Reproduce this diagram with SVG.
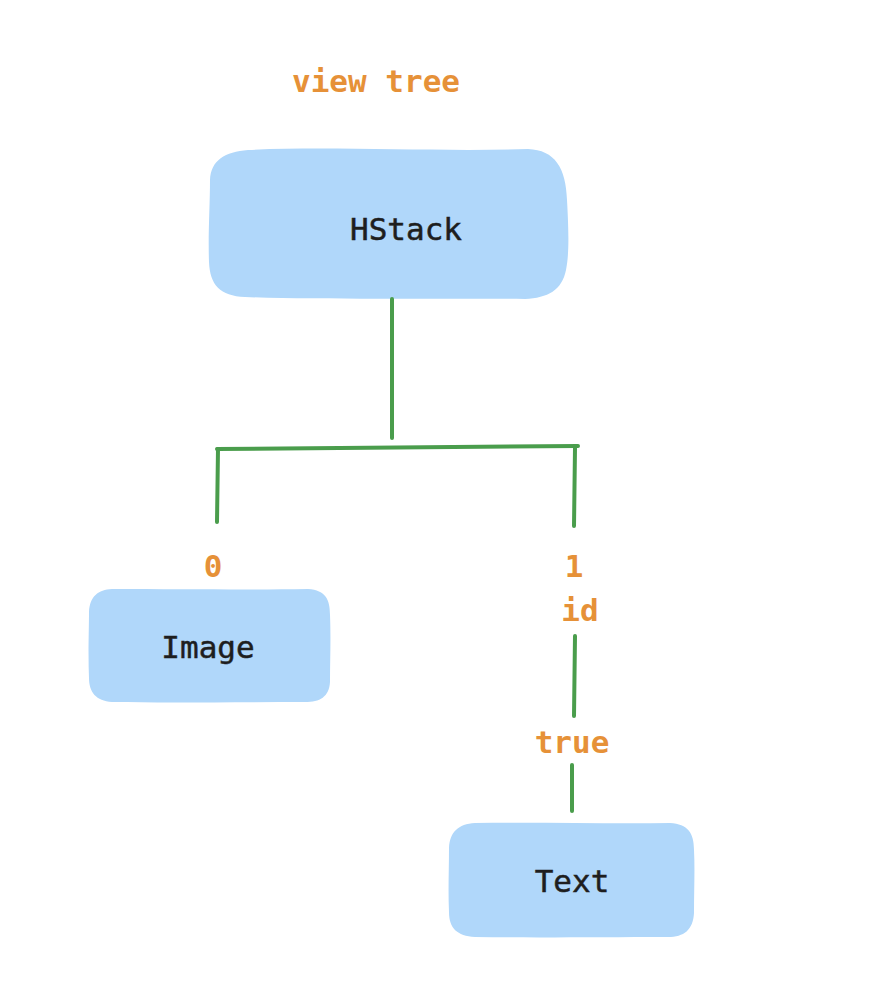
<svg xmlns="http://www.w3.org/2000/svg" width="888" height="988" viewBox="0 0 888 988">
<style>
.box{fill:#b0d7fa;stroke:none}
.lbl{font-family:"DejaVu Sans Mono","Liberation Mono",monospace;font-size:31px;fill:#1e1e1e;text-anchor:middle;stroke:#1e1e1e;stroke-width:0.5}
.ann{font-family:"DejaVu Sans Mono","Liberation Mono",monospace;font-size:31px;font-weight:bold;fill:#e69138;text-anchor:middle}
.edge{stroke:#4a9d4c;stroke-width:4;fill:none;stroke-linecap:round;stroke-linejoin:round}
</style>
<rect width="888" height="988" fill="#ffffff"/>
<text class="ann" x="376" y="92">view tree</text>
<g id="hstack">
<path class="box" d="M248,150 C330,146 440,152 528,149 C555,150 566,168 567,200 C569,235 569,255 566,270 C562,290 548,298 525,299 C430,298 320,300 245,297 C220,296 210,285 209,262 C208,235 210,205 210,180 C211,160 225,152 248,150 Z"/>
<text class="lbl" x="406" y="240">HStack</text>
</g>
<g id="image">
<path class="box" d="M112,589 C180,589 250,590 308,589 C326,590 330,600 330,615 C331,640 330,660 330,682 C329,697 320,702 305,702 C240,702 170,703 112,702 C96,701 89,692 89,678 C88,655 89,630 89,612 C90,596 98,590 112,589 Z"/>
<text class="lbl" x="208" y="658">Image</text>
</g>
<g id="text">
<path class="box" d="M475,823 C540,822 610,824 670,823 C688,824 694,833 694,850 C695,870 694,890 694,913 C693,930 684,937 668,937 C600,937 540,938 475,937 C457,936 449,928 449,912 C448,890 449,870 449,848 C450,832 458,824 475,823 Z"/>
<text class="lbl" x="572" y="892">Text</text>
</g>
<g id="connectors">
<path class="edge" d="M392,299 L392,438"/>
<path class="edge" d="M217,449 L578,446"/>
<path class="edge" d="M218,449 L217,522"/>
<path class="edge" d="M575,448 L574,526"/>
<path class="edge" d="M575,636 L574,716"/>
<path class="edge" d="M572,765 L572,811"/>
</g>
<text class="ann" x="213" y="577">0</text>
<text class="ann" x="574" y="577">1</text>
<text class="ann" x="580" y="621">id</text>
<text class="ann" x="572" y="753">true</text>
</svg>
